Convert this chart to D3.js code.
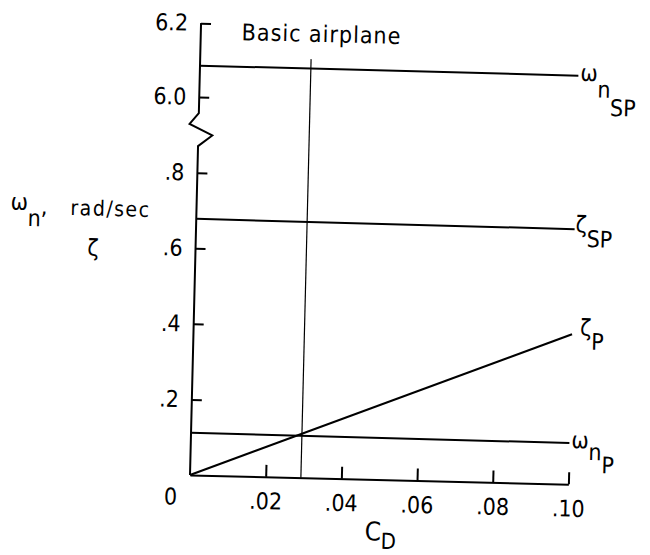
<!DOCTYPE html>
<html><head><meta charset="utf-8">
<script src="https://cdn.jsdelivr.net/npm/d3@7"></script>
<style>
body{margin:0;background:#fff;}
svg text{font-family:"Liberation Sans Narrow","DejaVu Sans Condensed","Liberation Sans",sans-serif;fill:#000;}
</style></head><body>
<svg id="chart" width="650" height="555"></svg>
<script>
// ---- data ----
const xTicks = [0.02, 0.04, 0.06, 0.08, 0.10];
const xTickLabels = [".02", ".04", ".06", ".08", ".10"];
const yTicksLower = [0.2, 0.4, 0.6, 0.8];
const yTickLabelsLower = [".2", ".4", ".6", ".8"];
const yTicksUpper = [6.0, 6.2];
const yTickLabelsUpper = ["6.0", "6.2"];
const cdPoints = [0, 0.10];
const omegaNSP = [6.085, 6.083];
const zetaSP = [0.678, 0.675];
const zetaP = [0.0, 0.397];
const omegaNP = [0.112, 0.109];
const basicCD = 0.0293;
const basicRange = [0, 6.11];

// ---- layout ----
const svg = d3.select("#chart");
const g = svg.append("g").attr("transform", "rotate(1.4,190,475)");
const x = d3.scaleLinear().domain([0, 0.10]).range([190, 568.5]);
const y = d3.scaleLinear().domain([0, 1, 6.0, 6.2]).range([475, 97, 97, 23]);
const x0 = x(0);

// x axis
const xa = g.append("g").attr("transform", `translate(0,${y(0)})`)
  .call(d3.axisBottom(x).tickValues(xTicks).tickFormat((d, i) => xTickLabels[i])
    .tickSizeInner(-12).tickSizeOuter(0).tickPadding(16));
xa.attr("font-family", null).attr("font-size", null);
xa.selectAll("line,path").attr("stroke", "#000").attr("stroke-width", 2);
xa.selectAll("text").attr("font-size", 23);

// y axis ticks
const ya = g.append("g").attr("transform", `translate(${x0},0)`)
  .call(d3.axisLeft(y).tickValues(yTicksLower.concat(yTicksUpper))
    .tickFormat(d => { const i = yTicksLower.indexOf(d); return i >= 0 ? yTickLabelsLower[i] : yTickLabelsUpper[yTicksUpper.indexOf(d)]; })
    .tickSizeInner(-10).tickSizeOuter(0).tickPadding(13));
ya.attr("font-family", null).attr("font-size", null);
ya.select(".domain").remove();
ya.selectAll("line").attr("stroke", "#000").attr("stroke-width", 2);
ya.selectAll("text").attr("font-size", 23);

// y axis line with break
const yb = y(1);
const axisPath = d3.path();
axisPath.moveTo(x0, y(6.2));
axisPath.lineTo(x0, yb + 16);
axisPath.lineTo(x0 - 9, yb + 27);
axisPath.lineTo(x0 + 14, yb + 38);
axisPath.lineTo(x0, yb + 49);
axisPath.lineTo(x0, y(0));
g.append("path").attr("d", axisPath.toString()).attr("fill", "none")
  .attr("stroke", "#000").attr("stroke-width", 2).attr("stroke-linejoin", "miter");

// origin label
g.append("text").attr("x", x0 - 19).attr("y", y(0) + 30).attr("text-anchor", "middle")
  .attr("font-size", 23).text("0");

// data lines
const line = d3.line().x((d) => x(d[0])).y((d) => y(d[1]));
const series = [
  { vals: omegaNSP, w: 2 },
  { vals: zetaSP, w: 2 },
  { vals: zetaP, w: 2.2 },
  { vals: omegaNP, w: 2 }
];
series.forEach(s => {
  g.append("path").datum(cdPoints.map((c, i) => [c, s.vals[i]]))
    .attr("d", line).attr("fill", "none").attr("stroke", "#000").attr("stroke-width", s.w);
});

// basic airplane vertical line
g.append("line").attr("x1", x(basicCD)).attr("x2", x(basicCD))
  .attr("y1", y(basicRange[0])).attr("y2", y(basicRange[1]))
  .attr("stroke", "#000").attr("stroke-width", 1.2);
g.append("text").attr("x", x(basicCD) - 70).attr("y", 39)
  .attr("font-size", 23).attr("letter-spacing", 1).text("Basic airplane");

// series labels
function seriesLabel(val, main, subs, off) {
  const ex = x(0.10), ey = y(val);
  const t = g.append("text").attr("x", ex + off.dx).attr("y", ey + off.dy).attr("font-size", 23);
  t.append("tspan").text(main);
  subs.forEach((s, i) => t.append("tspan").attr("dy", off.sub[i]).text(s));
}
seriesLabel(omegaNSP[1], "\u03C9", ["n", "SP"], { dx: 2, dy: 5, sub: [16.5, 18] });
seriesLabel(zetaSP[1], "\u03B6", ["SP"], { dx: 1, dy: 3, sub: [14.6] });
seriesLabel(zetaP[1], "\u03B6", ["P"], { dx: 8, dy: 1, sub: [14] });
seriesLabel(omegaNP[1], "\u03C9", ["n", "P"], { dx: 2, dy: 5, sub: [11.5, 13] });

// y axis title
const yt = g.append("text").attr("x", 4).attr("y", 214).attr("font-size", 23);
yt.append("tspan").text("\u03C9");
yt.append("tspan").attr("dy", 16).text("n");
yt.append("tspan").attr("dy", -12).text(",");
g.append("text").attr("x", 64).attr("y", 218).attr("font-size", 21)
  .attr("letter-spacing", 1.5).text("rad/sec");
g.append("text").attr("x", 82).attr("y", 258).attr("font-size", 23).text("\u03B6");

// x axis title
const xt = g.append("text").attr("x", 366).attr("y", 536).attr("font-size", 26);
xt.append("tspan").text("C");
xt.append("tspan").attr("dy", 8).attr("font-size", 22).text("D");
</script>
</body></html>
